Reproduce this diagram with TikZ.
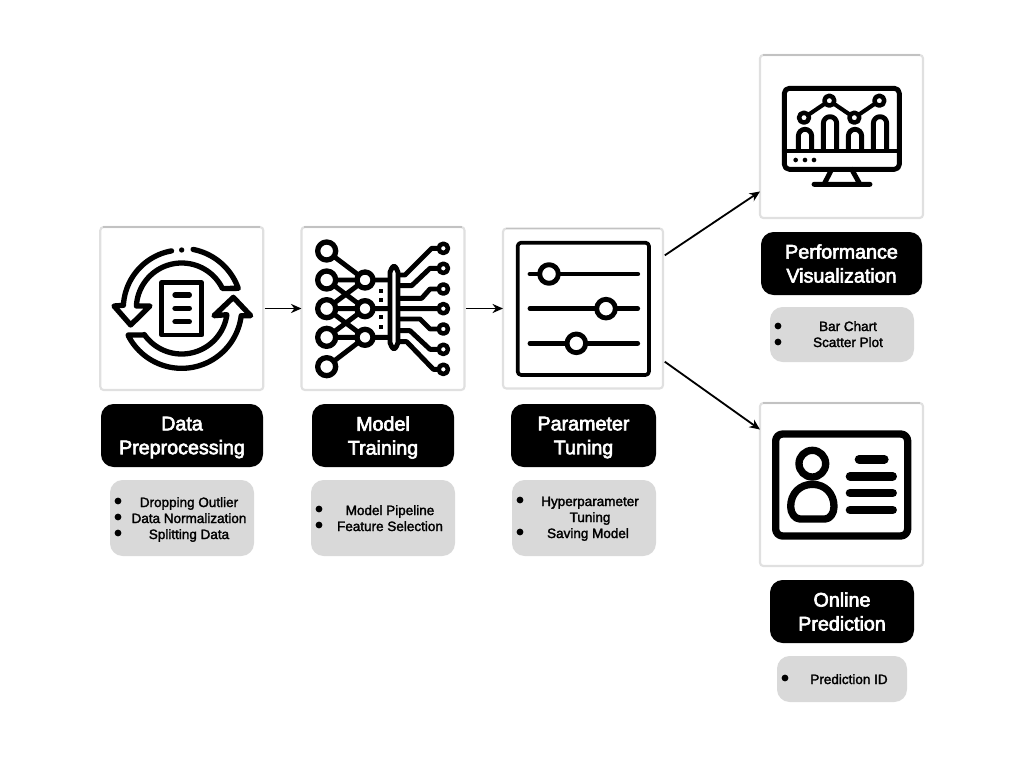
\documentclass[tikz,border=0pt]{standalone}
\usepackage{fontspec}
\setmainfont{Liberation Sans}
\newfontfamily\headfont{Liberation Sans}[FakeBold=3.2]
\newfontfamily\itemfont{Liberation Sans}[FakeBold=2]
\usetikzlibrary{arrows.meta}
\definecolor{greybox}{HTML}{D9D9D9}
\definecolor{edgegrey}{HTML}{E0E0E0}
\definecolor{edgetop}{HTML}{C2C2C2}
\newcommand{\flatline}[1]{\raisebox{0pt}[\height][0pt]{#1}}
\tikzset{
  iconbox/.style={draw=edgegrey,fill=white,line width=1.5pt,rounded corners=2.4pt,inner sep=0pt,outer sep=0pt,minimum width=#1*0.025cm,minimum height=#1*0.025cm},
  headbox/.style n args={2}{fill=black,text=white,rounded corners=9pt,inner sep=0pt,outer sep=0pt,minimum width=#1*0.025cm,minimum height=#2*0.025cm,align=center,font=\headfont\fontsize{14pt}{17pt}\selectfont},
  greyrect/.style n args={2}{fill=greybox,rounded corners=9pt,inner sep=0pt,outer sep=0pt,minimum width=#1*0.025cm,minimum height=#2*0.025cm},
  itemtext/.style={inner sep=0pt,text=black,font=\itemfont\fontsize{9.6pt}{11.4pt}\selectfont},
  flowarrow/.style={-{Stealth[length=7.5pt,width=6.5pt]},line width=1.3pt,black},
  bulletdot/.style={fill=black,draw=none},
  ic/.style={draw=black,line width=#1*0.29pt,line cap=round,line join=round},
  zoomframe/.style={x=0.008333cm,y=-0.008333cm},
}
\begin{document}
\begin{tikzpicture}[x=0.025cm,y=-0.025cm]
\useasboundingbox[fill=white] (0,0) rectangle (1024,768);

% icon boxes
\node[iconbox=163] (box1) at (181.8,308.5) {};
\node[iconbox=163] (box2) at (383,308.5) {};
\node[iconbox=160] (box3) at (583,308.5) {};
\node[iconbox=163] (box4) at (841.5,136.5) {};
\node[iconbox=163] (box5) at (841.5,484.5) {};
\foreach \b in {box1,box2,box3,box4,box5}
  \draw[edgetop,line width=1.4pt] ([xshift=2pt]\b.north west) -- ([xshift=-2pt]\b.north east);

% title boxes
\node[headbox={162}{63}] (head1) at (182,435.5) {Data\\\flatline{Preprocessing}};
\node[headbox={142}{63}] (head2) at (383,435.5) {Model\\\flatline{Training}};
\node[headbox={145}{63}] (head3) at (583.5,435.5) {Parameter\\\flatline{Tuning}};
\node[headbox={161}{63}] (head4) at (841.5,263.5) {Performance\\Visualization};
\node[headbox={144}{63}] (head5) at (842,611.5) {Online\\Prediction};

% grey boxes
\node[greyrect={144}{76}] (grey1) at (182,518) {};
\node[greyrect={144}{76}] (grey2) at (383,518) {};
\node[greyrect={144}{76}] (grey3) at (584,518) {};
\node[greyrect={144}{55}] (grey4) at (842,334.5) {};
\node[greyrect={130}{46}] (grey5) at (842,679) {};

% list items
\node[itemtext,anchor=base] (t11) at (189,507) {Dropping Outlier};
\node[itemtext,anchor=base] (t12) at (189,523) {Data Normalization};
\node[itemtext,anchor=base] (t13) at (189,539) {Splitting Data};
\node[itemtext,anchor=base] (t21) at (390,515) {Model Pipeline};
\node[itemtext,anchor=base] (t22) at (390,531) {Feature Selection};
\node[itemtext,anchor=base] (t31) at (590,506) {Hyperparameter};
\node[itemtext,anchor=base] (t32) at (590,522) {Tuning};
\node[itemtext,anchor=base] (t33) at (588,538) {Saving Model};
\node[itemtext,anchor=base] (t41) at (848,331) {Bar Chart};
\node[itemtext,anchor=base] (t42) at (848,347) {Scatter Plot};
\node[itemtext,anchor=base] (t51) at (849,684) {Prediction ID};
\foreach \x/\y in {118/501,118/517,118/533,319/509,319/525,520/500,520/532,778/326,778/342,785/678}
  \fill[bulletdot] (\x,\y) circle[radius=3.4];

% arrows
\draw[flowarrow,shorten <=1pt] (box1.east) -- (box2.west);
\draw[flowarrow,shorten <=1pt] (box2.east) -- (box3.west);
\draw[flowarrow,shorten <=1.5pt] (box3.33.5) -- (box4.214);
\draw[flowarrow,shorten <=1.5pt] (box3.-33.5) -- (box5.146);

% icon 1: refresh with document
\begin{scope}[shift={(90,220)},zoomframe]
  \draw[ic=12] (215,188) rectangle (335,345);
  \draw[ic=13] (255,225) -- (298,225) (255,265) -- (298,265) (255,305) -- (298,305);
  \fill (275,90) circle[radius=8];
  \draw[ic=13] plot[domain=260:183,samples=30] ({275+175*cos(\x)},{265+175*sin(\x)})
     -- (72,258) -- (122,315) -- (180,258) -- (140,258)
     -- plot[domain=183:334,samples=50] ({275+136*cos(\x)},{265+136*sin(\x)})
     -- (445,205)
     -- plot[domain=340:281,samples=30] ({275+180*cos(\x)},{265+180*sin(\x)});
  \draw[ic=13] (115,345) -- (160,345)
     -- plot[domain=145:8,samples=50] ({275+137*cos(\x)},{265+137*sin(\x)})
     -- (372,287) -- (430,232) -- (482,287) -- (455,287)
     -- plot[domain=7:153,samples=50] ({275+180*cos(\x)},{265+180*sin(\x)}) -- cycle;
\end{scope}

% icon 2: network
\begin{scope}[shift={(295,220)},zoomframe]
  \draw[ic=12] (95,93) -- (210,180) (95,180) -- (210,180) (95,180) -- (210,266)
     (95,266) -- (210,180) (95,266) -- (210,266) (95,266) -- (210,352)
     (95,352) -- (210,266) (95,352) -- (210,352) (95,440) -- (210,352)
     (210,180) -- (297,180) (210,266) -- (297,266) (210,352) -- (297,352);
  \foreach \y in {93,180,266,352,440}
    \draw[ic=13,fill=white] (95,\y) circle[radius=27];
  \foreach \y in {180,266,352}
    \draw[ic=13,fill=white] (210,\y) circle[radius=24];
  \draw[ic=12] (315,165) -- (330,165) -- (410,85) -- (445,85)
     (315,197) -- (350,197) -- (405,145) -- (445,145)
     (315,235) -- (380,235) -- (405,207) -- (445,207)
     (315,266) -- (445,266)
     (315,297) -- (375,297) -- (405,327) -- (445,327)
     (315,332) -- (345,332) -- (405,388) -- (445,388)
     (315,365) -- (335,365) -- (415,448) -- (445,448);
  \foreach \y in {85,145,207,266,327,388,448}
    \draw[ic=11,fill=white] (445,\y) circle[radius=14];
  \draw[ic=12,fill=white,rounded corners=4pt] (285,140) rectangle (309,385);
  \foreach \y in {212,240,292,320}
    \fill (252,\y-6) rectangle (264,\y+6);
\end{scope}

% icon 3: sliders
\begin{scope}[shift={(495,220)},zoomframe]
  \draw[ic=9,rounded corners=2.5pt] (68,68) rectangle (462,465);
  \draw[ic=12] (105,162) -- (428,162) (105,266) -- (428,266) (105,370) -- (428,370);
  \draw[ic=12,fill=white] (162,162) circle[radius=28];
  \draw[ic=12,fill=white] (333,266) circle[radius=28];
  \draw[ic=12,fill=white] (244,370) circle[radius=28];
\end{scope}

% icon 4: monitor with chart
\begin{scope}[shift={(750,50)},zoomframe]
  \draw[ic=12,rounded corners=3.5pt] (103,115) rectangle (448,358);
  \draw[ic=12] (103,303) -- (448,303);
  \fill (137,330) circle[radius=7] (165,330) circle[radius=7] (192,330) circle[radius=7];
  \draw[ic=12] (245,358) -- (222,403) (305,358) -- (330,403) (192,403) -- (360,403);
  \draw[ic=12] (145,300) -- (145,258) arc[start angle=180,end angle=360,radius=20] -- (185,300);
  \draw[ic=12] (220,300) -- (220,220) arc[start angle=180,end angle=360,radius=20] -- (260,300);
  \draw[ic=12] (295,300) -- (295,258) arc[start angle=180,end angle=360,radius=20] -- (335,300);
  \draw[ic=12] (370,300) -- (370,220) arc[start angle=180,end angle=360,radius=20] -- (410,300);
  \draw[ic=10] (162,203) -- (238,152) -- (313,203) -- (388,152);
  \foreach \x/\y in {162/203,238/152,313/203,388/152}
    \draw[ic=11,fill=white] (\x,\y) circle[radius=15];
\end{scope}

% icon 5: identity card
\begin{scope}[shift={(750,395)},zoomframe]
  \draw[ic=18,rounded corners=5pt] (77,117) rectangle (473,423);
  \draw[ic=18] (187,206) circle[radius=40];
  \draw[ic=18] (122,335) .. controls (122,295) and (150,268) .. (187,268)
     .. controls (225,268) and (252,295) .. (252,335)
     .. controls (252,355) and (240,372) .. (225,372)
     -- (150,372) .. controls (135,372) and (122,355) .. (122,335) -- cycle;
  \draw[ic=21] (327,193) -- (403,193) (300,244) -- (428,244) (300,294) -- (428,294) (300,345) -- (428,345);
\end{scope}
\end{tikzpicture}
\end{document}
